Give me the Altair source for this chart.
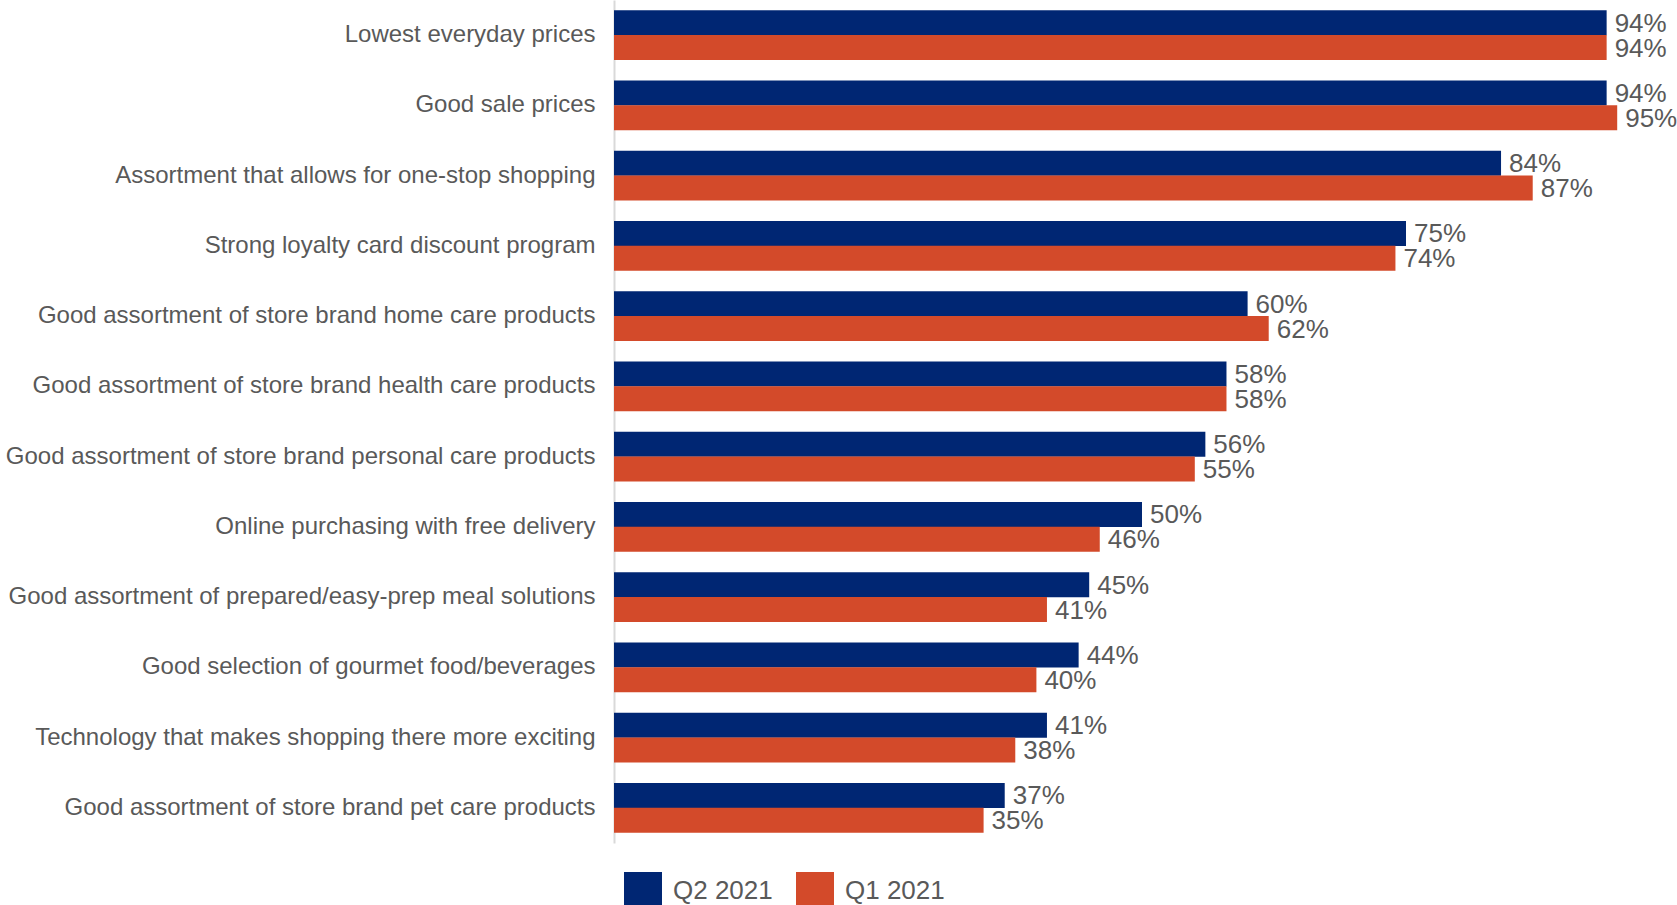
import altair as alt
import pandas as pd

categories = [
    "Lowest everyday prices",
    "Good sale prices",
    "Assortment that allows for one-stop shopping",
    "Strong loyalty card discount program",
    "Good assortment of store brand home care products",
    "Good assortment of store brand health care products",
    "Good assortment of store brand personal care products",
    "Online purchasing with free delivery",
    "Good assortment of prepared/easy-prep meal solutions",
    "Good selection of gourmet food/beverages",
    "Technology that makes shopping there more exciting",
    "Good assortment of store brand pet care products",
]
q2_2021 = [94, 94, 84, 75, 60, 58, 56, 50, 45, 44, 41, 37]
q1_2021 = [94, 95, 87, 74, 62, 58, 55, 46, 41, 40, 38, 35]
series = ["Q2 2021", "Q1 2021"]
colors = ["#002673", "#D34A2A"]

rows = []
for c, a, b in zip(categories, q2_2021, q1_2021):
    rows.append({"category": c, "series": series[0], "value": a, "label": f"{a}%"})
    rows.append({"category": c, "series": series[1], "value": b, "label": f"{b}%"})
df = pd.DataFrame(rows)

FONT = "Liberation Sans"
GRAY = "#595959"

y_enc = alt.Y(
    "category:N",
    sort=categories,
    scale=alt.Scale(paddingInner=0.29, paddingOuter=0.145),
    axis=alt.Axis(
        title=None,
        ticks=False,
        labelPadding=19,
        labelFontSize=24,
        labelColor=GRAY,
        labelFont=FONT,
        labelLimit=1000,
        domainColor="#d9d9d9",
        domainWidth=2,
    ),
)
yoff = alt.YOffset("series:N", sort=series, scale=alt.Scale(domain=series, paddingInner=0))
x_enc = alt.X("value:Q", scale=alt.Scale(domain=[0, 100]), axis=None)

bars = alt.Chart(df).mark_bar(size=25).encode(
    y=y_enc,
    yOffset=yoff,
    x=x_enc,
    color=alt.Color(
        "series:N",
        scale=alt.Scale(domain=series, range=colors),
        sort=series,
        legend=alt.Legend(
            title=None,
            orient="none",
            legendX=10,
            legendY=872,
            direction="horizontal",
            symbolType="square",
            symbolSize=1444,
            symbolStrokeWidth=0,
            labelFontSize=26,
            labelColor=GRAY,
            labelFont=FONT,
            labelOffset=11,
            columnPadding=23,
        ),
    ),
)

text = alt.Chart(df).mark_text(
    align="left", baseline="middle", dx=8, dy=1, fontSize=26, color=GRAY, font=FONT
).encode(
    y=alt.Y("category:N", sort=categories),
    yOffset=yoff,
    x=x_enc,
    text="label:N",
)

chart = (
    alt.layer(bars, text)
    .properties(
        width=1056,
        height=843,
        padding={"left": 614, "top": 0, "right": 7, "bottom": 62},
        autosize=alt.AutoSizeParams(type="none"),
    )
    .configure(font=FONT)
    .configure_view(strokeWidth=0, stroke=None)
)

chart.save("out.html", embed_options={"renderer": "svg", "actions": False})
